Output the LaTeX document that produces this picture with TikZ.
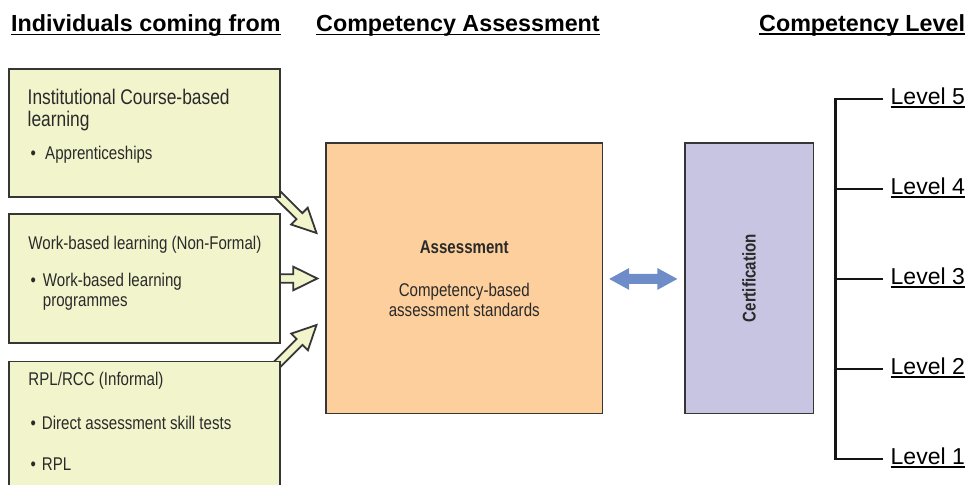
\documentclass[tikz,border=0pt]{standalone}
\usepackage{fontspec}
\setmainfont{Liberation Sans}
\newfontfamily\narrowfont[FakeStretch=0.82]{Liberation Sans}
\usetikzlibrary{calc,backgrounds}
\definecolor{boxfill}{HTML}{F2F4CC}
\definecolor{boxline}{HTML}{363636}
\definecolor{assessfill}{HTML}{FDCF9C}
\definecolor{certfill}{HTML}{C8C5E2}
\definecolor{dblblue}{HTML}{6E8CC8}
\definecolor{txtgray}{HTML}{2A2A2A}
\newcommand{\srcarrow}[2]{%
  \coordinate (ba-s) at (#1);
  \coordinate (ba-t) at (#2);
  \coordinate (ba-h) at ($(ba-t)!24bp!(ba-s)$);
  \draw[blkarrow] ($(ba-s)!4.2bp!90:(ba-t)$) -- ($(ba-h)!4.2bp!-90:(ba-s)$)
    -- ($(ba-h)!11.8bp!-90:(ba-s)$) -- (ba-t) -- ($(ba-h)!11.8bp!90:(ba-s)$)
    -- ($(ba-h)!4.2bp!90:(ba-s)$) -- ($(ba-s)!4.2bp!-90:(ba-t)$) -- cycle;
}
\begin{document}
\begin{tikzpicture}[x=1bp,y=-1bp,line join=miter,
  srcbox/.style={draw=boxline, line width=1.8bp, fill=boxfill, inner sep=0, outer sep=0, anchor=north west, minimum width=271bp},
  bigbox/.style={draw=boxline, line width=1.5bp, inner sep=0, outer sep=0, anchor=north west, minimum height=270.5bp},
  hdr/.style={anchor=base west, inner sep=0, font=\fontsize{23.3bp}{28bp}\selectfont\bfseries},
  boxtxt/.style={anchor=base west, inner sep=0, text=txtgray, font=\narrowfont\fontsize{18.4bp}{22bp}\selectfont},
  bigtxt/.style={anchor=base west, inner sep=0, text=txtgray, font=\narrowfont\fontsize{21.2bp}{25bp}\selectfont},
  ctrtxt/.style={anchor=base, inner sep=0, text=txtgray, font=\narrowfont\fontsize{18.4bp}{22bp}\selectfont},
  lvl/.style={anchor=base west, inner sep=0, font=\fontsize{23bp}{27bp}\selectfont},
  blkarrow/.style={draw=boxline, line width=1.8bp, fill=boxfill},
  bracket/.style={draw=black!92, line width=2.4bp},
  uline/.style={line width=1.8bp}
]
\useasboundingbox (0,0) rectangle (968,485);
\clip (0,0) rectangle (968,485);

% headers
\node[hdr] (hleft) at (11,32) {Individuals coming from};
\node[hdr] (hmid) at (316,32) {Competency Assessment};
\node[hdr] (hright) at (759,31.5) {Competency Level};
\foreach \h in {hleft,hmid,hright}
  \draw[uline] ([yshift=-2.6bp]\h.base west) -- ([yshift=-2.6bp]\h.base east);

% source boxes
\node[srcbox, minimum height=128bp] (src1) at (9,69) {};
\node[srcbox, minimum height=129bp] (src2) at (9,214) {};
\node[srcbox, minimum height=140bp] (src3) at (9,361.5) {};

% assessment and certification
\node[bigbox, fill=assessfill, minimum width=276.5bp] (assess) at (326,143) {};
\node[bigbox, fill=certfill, minimum width=128.3bp] (cert) at (685,143) {};

% box 1 text
\node[bigtxt] (t1a) at (27.5,105) {Institutional Course-based};
\node[bigtxt] (t1b) at (27.5,127) {learning};
\node[boxtxt] (t1bul) at (30.5,160) {\textbullet};
\node[boxtxt] (t1c) at (45,160) {Apprenticeships};

% box 2 text
\node[boxtxt] (t2a) at (28.3,249.5) {Work-based learning (Non-Formal)};
\node[boxtxt] (t2bul) at (30.5,287) {\textbullet};
\node[boxtxt] (t2b) at (42.7,287) {Work-based learning};
\node[boxtxt] (t2c) at (42.7,306.5) {programmes};

% box 3 text
\node[boxtxt] (t3a) at (28.3,386) {RPL/RCC (Informal)};
\node[boxtxt] (t3bul) at (30.5,429.5) {\textbullet};
\node[boxtxt] (t3b) at (41.7,429.5) {Direct assessment skill tests};
\node[boxtxt] (t3cbul) at (30.5,470.5) {\textbullet};
\node[boxtxt] (t3c) at (41.7,470.5) {RPL};

% assessment text
\node[ctrtxt, font=\narrowfont\fontsize{18.4bp}{22bp}\selectfont\bfseries] (asA) at (464.25,253.3) {Assessment};
\node[ctrtxt] (asB) at (464.25,296.8) {Competency-based};
\node[ctrtxt] (asC) at (464.25,316.5) {assessment standards};

% certification text
\node[inner sep=0, rotate=90, text=txtgray, font=\narrowfont\fontsize{18.4bp}{22bp}\selectfont\bfseries] (certtxt) at (cert.center) {Certification};

% block arrows into assessment
\begin{scope}[on background layer]
\srcarrow{$(src1.south east)+(-7,-7)$}{$(assess.north west)+(-9.5,90)$}
\srcarrow{$(src2.east)+(-6,0)$}{$(assess.west |- src2.east)+(-8.7,0)$}
\srcarrow{$(src3.north east)+(-7,7)$}{$(assess.north west)+(-9.5,182)$}
\end{scope}

% double arrow
\coordinate (dl) at ($(assess.east)+(6.7,0.7)$);
\coordinate (dr) at ($(cert.west)+(-7.7,0.7)$);
\fill[dblblue] (dl) -- ++(20,-11) -- ++(0,6) -- ($(dr)+(-20,-5)$) -- ++(0,-6) -- (dr)
  -- ++(-20,11) -- ++(0,-6) -- ($(dl)+(20,5)$) -- ++(0,6) -- cycle;

% levels
\foreach \n/\y in {5/104.3,4/194.3,3/284.3,2/374.3,1/464.3} {
  \node[lvl] (lv\n) at (890.5,\y) {Level \n};
  \draw[uline] ([yshift=-2.8bp]lv\n.base west) -- ([yshift=-2.8bp]lv\n.base east);
  \coordinate (tk\n) at ($(lv\n.base west)+(-7.5,-5.2)$);
}
\coordinate (bx) at (835.5,0);
\draw[bracket] (tk5) -- (tk5 -| bx) -- (tk1 -| bx) -- (tk1);
\foreach \n in {2,3,4}
  \draw[bracket] (tk\n -| bx) -- (tk\n);
\end{tikzpicture}
\end{document}
